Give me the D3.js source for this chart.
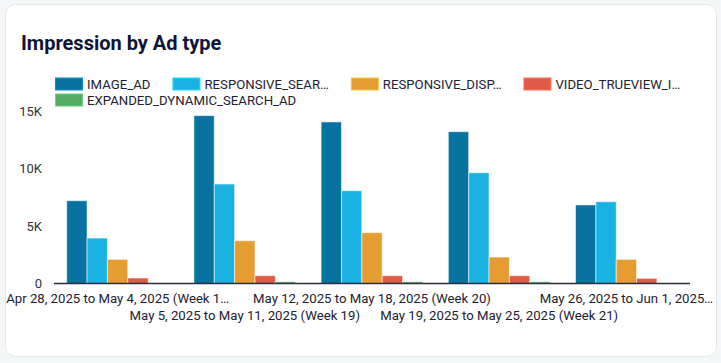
<!DOCTYPE html>
<html>
<head>
<meta charset="utf-8">
<script src="https://cdn.jsdelivr.net/npm/d3@7"></script>
<style>
  html, body { margin: 0; padding: 0; background: #f3f7f8; }
  svg { display: block; font-family: Roboto, "Noto Sans", sans-serif; }
</style>
</head>
<body>
<div id="chart"></div>
<script>
var width = 721;
var height = 363;

// data
const weeks = [
  "Apr 28, 2025 to May 4, 2025 (Week 18)",
  "May 5, 2025 to May 11, 2025 (Week 19)",
  "May 12, 2025 to May 18, 2025 (Week 20)",
  "May 19, 2025 to May 25, 2025 (Week 21)",
  "May 26, 2025 to Jun 1, 2025 (Week 22)"
];
const adTypes = [
  "IMAGE_AD",
  "RESPONSIVE_SEARCH_AD",
  "RESPONSIVE_DISPLAY_AD",
  "VIDEO_TRUEVIEW_IN_STREAM",
  "EXPANDED_DYNAMIC_SEARCH_AD"
];
const imageAd      = [7200, 14600, 14050, 13200, 6830];
const respSearch   = [3950, 8650, 8070, 9630, 7110];
const respDisplay  = [2100, 3720, 4420, 2300, 2100];
const videoTrue    = [480, 680, 680, 680, 450];
const expDynSearch = [10, 150, 150, 150, 30];
const colors = ["#0873a0", "#19b2e3", "#e59d32", "#e05a48", "#56aa64"];
const yTicks = [0, 5000, 10000, 15000];

const series = [imageAd, respSearch, respDisplay, videoTrue, expDynSearch];

const svg = d3.select("#chart").append("svg")
  .attr("width", width)
  .attr("height", height);

// card
svg.append("rect")
  .attr("x", 5.5).attr("y", 4.5)
  .attr("width", 711).attr("height", 352)
  .attr("rx", 10)
  .attr("fill", "#fff")
  .attr("stroke", "#e4e9eb");

svg.append("text")
  .attr("x", 21).attr("y", 50)
  .attr("font-size", 20)
  .attr("font-weight", 700)
  .attr("fill", "#0f1535")
  .text("Impression by Ad type");

const plot = { left: 54, right: 690, top: 111, bottom: 283.5 };

const x0 = d3.scaleBand()
  .domain(weeks)
  .range([plot.left, plot.right])
  .paddingInner(0.2)
  .paddingOuter(0.1);

const x1 = d3.scaleBand()
  .domain(adTypes)
  .range([0, x0.bandwidth()]);

const y = d3.scaleLinear()
  .domain([0, 15000])
  .range([plot.bottom, plot.top]);

const color = d3.scaleOrdinal(adTypes, colors);

// helper: cut text with an ellipsis until it fits
function fitText(sel, maxW) {
  sel.each(function() {
    const t = d3.select(this);
    let s = t.text();
    if (this.getComputedTextLength() <= maxW) return;
    while (s.length > 1) {
      s = s.slice(0, -1);
      t.text(s.trimEnd() + "…");
      if (this.getComputedTextLength() <= maxW) break;
    }
  });
}

// legend, laid out left to right and wrapped
const legend = svg.append("g").selectAll("g")
  .data(adTypes)
  .join("g");

legend.append("rect")
  .attr("x", 0.5).attr("y", -6)
  .attr("width", 27).attr("height", 12)
  .attr("fill", d => color(d))
  .attr("stroke", d => d3.color(color(d)).brighter(0.6))
  .attr("stroke-width", 1);

legend.append("text")
  .attr("x", 32).attr("dy", "0.35em")
  .attr("font-size", 13.2)
  .attr("fill", "#1d2133")
  .text(d => d);

let lx = 55, ly = 84;
legend.each(function(d, i) {
  const g = d3.select(this);
  const txt = g.select("text");
  if (i < 4) txt.call(fitText, 125.5);
  const w = 32 + txt.node().getComputedTextLength();
  if (lx + w > 700) { lx = 55; ly += 16; }
  g.attr("transform", `translate(${lx},${ly})`);
  lx += w + 22;
});

// y axis (labels only)
svg.append("g")
  .attr("transform", `translate(${plot.left},0)`)
  .call(d3.axisLeft(y)
    .tickValues(yTicks)
    .tickSize(0)
    .tickPadding(12)
    .tickFormat(d => d === 0 ? "0" : d / 1000 + "K"))
  .call(g => g.select(".domain").remove())
  .selectAll("text")
  .attr("font-size", 13)
  .attr("font-family", "Roboto, sans-serif")
  .attr("fill", "#333");

// bars
const groups = svg.append("g").selectAll("g")
  .data(weeks)
  .join("g")
  .attr("transform", d => `translate(${x0(d)},0)`);

groups.selectAll("rect")
  .data((w, wi) => adTypes.map((a, ai) => ({ type: a, value: series[ai][wi] })))
  .join("rect")
  .attr("x", d => x1(d.type))
  .attr("y", d => y(d.value))
  .attr("width", x1.bandwidth())
  .attr("height", d => y(0) - y(d.value))
  .attr("fill", d => color(d.type))
  .attr("stroke", "rgba(255,255,255,0.55)")
  .attr("stroke-width", 1);

// x axis
const xAxis = svg.append("g")
  .attr("transform", `translate(0,${plot.bottom})`)
  .call(d3.axisBottom(x0).tickSize(0).tickPadding(0));

xAxis.select(".domain")
  .attr("d", `M${plot.left},0H${plot.right}`)
  .attr("stroke", "#2b2f3f")
  .attr("stroke-width", 1.5);

xAxis.selectAll(".tick text")
  .attr("font-size", 13.2)
  .attr("font-family", "Roboto, sans-serif")
  .attr("fill", "#1d2133")
  .attr("y", (d, i) => i % 2 === 0 ? 10 : 27)
  .each(function(d) {
    const c = x0(d) + x0.bandwidth() / 2;
    const maxW = 2 * Math.min(c - 6, 716 - c);
    d3.select(this).call(fitText, maxW);
  });
</script>
</body>
</html>
